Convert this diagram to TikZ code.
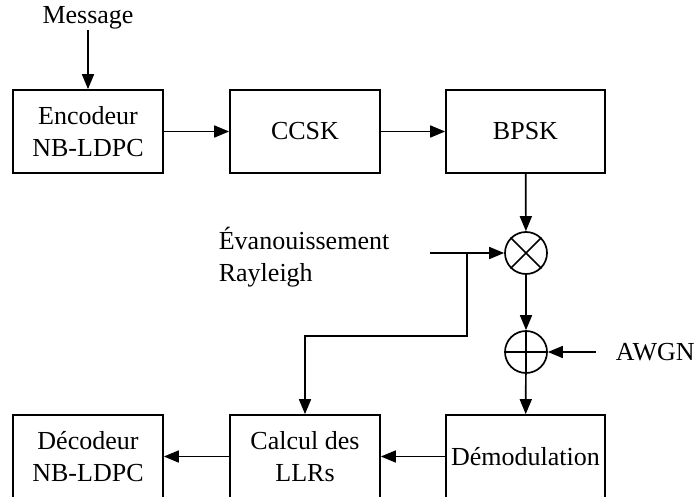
\documentclass[tikz,border=0pt]{standalone}
\usepackage{fontspec}
\setmainfont{Liberation Serif}
\usetikzlibrary{arrows.meta}

\begin{document}
\begin{tikzpicture}[x=1pt,y=-1pt,
    line width=1.7pt,
    every node/.style={font=\fontsize{26}{32}\selectfont},
    block/.style={draw, minimum width=150pt, minimum height=83pt, inner sep=0pt, align=center},
    wide/.style={block, minimum width=159pt},
    mixer/.style={draw, circle, minimum size=42pt, inner sep=0pt},
    sig/.style={-{Triangle[length=15pt,width=12pt]}}]
  \useasboundingbox (0,0) rectangle (695,497);
  % Transmitter chain.
  \node[inner sep=0pt] (msg) at (88,18) {Message};
  \node[block] (enc) at (88,131.5) {Encodeur\\NB-LDPC};
  \node[block] (ccsk) at (305,131.5) {CCSK};
  \node[wide] (bpsk) at (525.5,131.5) {BPSK};
  % Channel: fading and noise.
  \node[mixer] (mul) at (526,253) {};
  \draw (mul.north west) -- (mul.south east) (mul.north east) -- (mul.south west);
  \node[mixer] (add) at (526,352) {};
  \draw (add.north) -- (add.south) (add.west) -- (add.east);
  \node[anchor=west, align=left, inner sep=0pt] (ray) at (218,257) {Évanouissement\\Rayleigh};
  \node[anchor=west, inner sep=0pt] (awgn) at (615,352) {AWGN};
  \coordinate (rayin) at (430,253);
  \coordinate (tap) at (467,253);
  \coordinate (awgnin) at (596,352);
  % Receiver chain.
  \node[wide] (demod) at (525.5,456.5) {Démodulation};
  \node[block] (llr) at (305,456.5) {Calcul des\\LLRs};
  \node[block] (dec) at (88,456.5) {Décodeur\\NB-LDPC};
  % Connections.
  \draw[sig] (msg) -- ++(0,24) -- (enc.north);
  \draw[sig] (enc) -- (ccsk);
  \draw[sig] (ccsk) -- (bpsk);
  \draw[sig] (bpsk) -- (mul);
  \draw[sig] (rayin) -- (mul);
  \draw[sig] (tap) -- ++(0,83) -| (llr.north);
  \draw[sig] (mul) -- (add);
  \draw[sig] (awgnin) -- (add);
  \draw[sig] (add) -- (demod);
  \draw[sig] (demod) -- (llr);
  \draw[sig] (llr) -- (dec);
\end{tikzpicture}
\end{document}
